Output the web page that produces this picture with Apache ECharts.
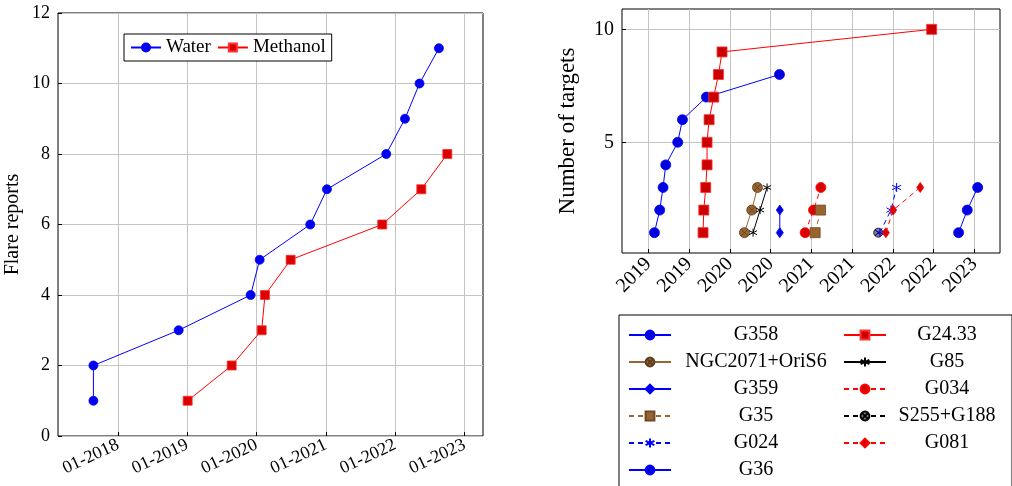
<!DOCTYPE html>
<html>
<head>
<meta charset="utf-8">
<script src="https://cdn.jsdelivr.net/npm/echarts@6/dist/echarts.min.js"></script>
<style>
  html, body { margin: 0; padding: 0; background: #fff; }
  #chart { width: 1012px; height: 486px; }
</style>
</head>
<body>
<div id="chart"></div>
<script>
// left panel: cumulative flare reports (x in decimal years)
const waterDates = [2017.644, 2017.644, 2018.874, 2019.913, 2020.043, 2020.773, 2021.014, 2021.870, 2022.140, 2022.350, 2022.630]
const waterCounts = [1, 2, 3, 4, 5, 6, 7, 8, 9, 10, 11]
const methanolDates = [2019.004, 2019.639, 2020.072, 2020.120, 2020.490, 2021.812, 2022.376, 2022.751]
const methanolCounts = [1, 2, 3, 4, 5, 6, 7, 8]
const leftYearTicks = [2018, 2019, 2020, 2021, 2022, 2023]

// right panel: number of targets per source
const targetNames = ['G358', 'G24.33', 'NGC2071+OriS6', 'G85', 'G359', 'G034', 'G35', 'S255+G188', 'G024', 'G081', 'G36']
const g358X = [2019.074, 2019.139, 2019.180, 2019.213, 2019.360, 2019.418, 2019.712, 2020.609]
const g358Y = [1, 2, 3, 4, 5, 6, 7, 8]
const g2433X = [2019.671, 2019.680, 2019.704, 2019.720, 2019.720, 2019.745, 2019.802, 2019.860, 2019.904, 2022.477]
const g2433Y = [1, 2, 3, 4, 5, 6, 7, 8, 9, 10]
const ngcX = [2020.179, 2020.269, 2020.339]
const ngcY = [1, 2, 3]
const g85X = [2020.285, 2020.371, 2020.457]
const g85Y = [1, 2, 3]
const g359X = [2020.613, 2020.613]
const g359Y = [1, 2]
const g034X = [2020.924, 2021.027, 2021.117]
const g034Y = [1, 2, 3]
const g35X = [2021.047, 2021.113]
const g35Y = [1, 2]
const s255X = [2021.821]
const s255Y = [1]
const g024X = [2021.842, 2021.977, 2022.047]
const g024Y = [1, 2, 3]
const g081X = [2021.915, 2022.005, 2022.337]
const g081Y = [1, 2, 3]
const g36X = [2022.808, 2022.914, 2023.042]
const g36Y = [1, 2, 3]
const rightHalfYearTicks = [2019, 2019.5, 2020, 2020.5, 2021, 2021.5, 2022, 2022.5, 2023]
const rightCountTicks = [5, 10]

const font = 'Liberation Serif'
const pairs = (xs, ys) => xs.map((x, i) => [x, ys[i]])

const starPath = 'path://M5,0L5,10M0.67,2.5L9.33,7.5M0.67,7.5L9.33,2.5'
const otimesPath = 'path://M10,5A5,5,0,1,1,0,5A5,5,0,1,1,10,5ZM1.46,1.46L8.54,8.54M8.54,1.46L1.46,8.54'

// helper for the right-hand series
const target = (name, xs, ys, opts) => ({
  name,
  type: 'line',
  xAxisIndex: 1,
  yAxisIndex: 1,
  data: pairs(xs, ys),
  symbol: opts.symbol,
  symbolSize: opts.size,
  showSymbol: true,
  animation: false,
  lineStyle: { color: opts.color, width: 1, type: opts.dashed ? [5, 4] : 'solid' },
  itemStyle: {
    color: opts.fill || opts.color,
    borderColor: opts.border || opts.color,
    borderWidth: opts.bw || 0.8
  },
  emphasis: { disabled: true }
})

const axisCommon = {
  axisLine: { show: false },
  axisTick: { inside: true, length: 4, lineStyle: { color: '#000' } },
  splitLine: { show: true, lineStyle: { color: '#c4c4c4', width: 1 } }
}

const chart = echarts.init(document.getElementById('chart'))

const option = {
  animation: false,
  textStyle: { fontFamily: font },
  grid: [
    { left: 58, top: 13, right: 529, bottom: 50, show: true, borderColor: '#000', borderWidth: 1, backgroundColor: 'transparent' },
    { left: 622, top: 9, right: 12, bottom: 233, show: true, borderColor: '#000', borderWidth: 1, backgroundColor: 'transparent' }
  ],
  xAxis: [
    {
      type: 'value',
      gridIndex: 0,
      min: 2017.133,
      max: 2023.266,
      ...axisCommon,
      axisTick: { ...axisCommon.axisTick, customValues: leftYearTicks },
      axisLabel: {
        customValues: leftYearTicks,
        rotate: 25,
        color: '#000',
        fontFamily: font,
        fontSize: 18,
        margin: 8,
        formatter: v => '01-' + Math.round(v)
      }
    },
    {
      type: 'value',
      gridIndex: 1,
      min: 2018.676,
      max: 2023.316,
      ...axisCommon,
      axisTick: { ...axisCommon.axisTick, customValues: rightHalfYearTicks },
      axisLabel: {
        customValues: rightHalfYearTicks,
        rotate: 45,
        color: '#000',
        fontFamily: font,
        fontSize: 20,
        margin: 8,
        formatter: v => String(Math.floor(v + 1e-6))
      }
    }
  ],
  yAxis: [
    {
      type: 'value',
      gridIndex: 0,
      min: 0,
      max: 12,
      interval: 2,
      ...axisCommon,
      axisLabel: { color: '#000', fontFamily: font, fontSize: 18, margin: 8 },
      name: 'Flare reports',
      nameLocation: 'middle',
      nameGap: 35,
      nameTextStyle: { color: '#000', fontFamily: font, fontSize: 20 }
    },
    {
      type: 'value',
      gridIndex: 1,
      min: 0.1,
      max: 10.9,
      ...axisCommon,
      axisTick: { ...axisCommon.axisTick, customValues: rightCountTicks },
      axisLabel: { customValues: rightCountTicks, color: '#000', fontFamily: font, fontSize: 20, margin: 8 },
      name: 'Number of targets',
      nameLocation: 'middle',
      nameGap: 43,
      nameTextStyle: { color: '#000', fontFamily: font, fontSize: 23 }
    }
  ],
  legend: [
    {
      data: ['Water', 'Methanol'],
      left: 124,
      top: 34,
      orient: 'horizontal',
      itemWidth: 30,
      itemHeight: 10,
      itemGap: 6,
      padding: [4, 6],
      borderColor: '#000',
      borderWidth: 1,
      backgroundColor: '#fff',
      selectedMode: false,
      textStyle: { color: '#000', fontFamily: font, fontSize: 19 }
    },
    {
      data: targetNames,
      left: 619,
      top: 315,
      orient: 'horizontal',
      width: 378,
      itemWidth: 42,
      itemHeight: 11,
      itemGap: 7,
      padding: [10, 9, 7, 9],
      borderColor: '#000',
      borderWidth: 1,
      backgroundColor: '#fff',
      selectedMode: false,
      formatter: name => {
        const col = targetNames.indexOf(name) % 2 === 0 ? 'a' : 'b'
        return '{' + col + '|' + name + '}'
      },
      textStyle: {
        color: '#000',
        fontFamily: font,
        fontSize: 20,
        rich: {
          a: { width: 160, align: 'center', fontFamily: font, fontSize: 20, lineHeight: 22 },
          b: { width: 112, align: 'center', fontFamily: font, fontSize: 20, lineHeight: 22 }
        }
      }
    }
  ],
  series: [
    {
      name: 'Water',
      type: 'line',
      xAxisIndex: 0,
      yAxisIndex: 0,
      data: pairs(waterDates, waterCounts),
      symbol: 'circle',
      symbolSize: 9,
      lineStyle: { color: '#0000ff', width: 1 },
      itemStyle: { color: '#0000ee', borderColor: '#0000ff', borderWidth: 0.8 },
      emphasis: { disabled: true }
    },
    {
      name: 'Methanol',
      type: 'line',
      xAxisIndex: 0,
      yAxisIndex: 0,
      data: pairs(methanolDates, methanolCounts),
      symbol: 'rect',
      symbolSize: 9,
      lineStyle: { color: '#ff0000', width: 1 },
      itemStyle: { color: '#dd0000', borderColor: '#ff3030', borderWidth: 0.8 },
      emphasis: { disabled: true }
    },
    target('G358', g358X, g358Y, { symbol: 'circle', size: 10, color: '#0000ff', fill: '#0000dd' }),
    target('G24.33', g2433X, g2433Y, { symbol: 'rect', size: 10, color: '#ff0000', fill: '#cc0000', border: '#ff3030' }),
    target('NGC2071+OriS6', ngcX, ngcY, { symbol: otimesPath, size: 10, color: '#996633', fill: '#9a6430', border: '#5c3d1f' }),
    target('G85', g85X, g85Y, { symbol: starPath, size: 8, color: '#000000', fill: '#000000', bw: 1 }),
    target('G359', g359X, g359Y, { symbol: 'diamond', size: [7, 10], color: '#0000ff', fill: '#0000dd' }),
    target('G034', g034X, g034Y, { symbol: 'circle', size: 10, color: '#ff0000', fill: '#dd0000', dashed: true }),
    target('G35', g35X, g35Y, { symbol: 'rect', size: 10, color: '#996633', fill: '#9a6430', border: '#6b4a24', dashed: true }),
    target('S255+G188', s255X, s255Y, { symbol: otimesPath, size: 9, color: '#000000', fill: '#808080', border: '#000000', dashed: true }),
    target('G024', g024X, g024Y, { symbol: starPath, size: 9, color: '#0000ff', fill: '#0000ff', bw: 1, dashed: true }),
    target('G081', g081X, g081Y, { symbol: 'diamond', size: [7, 10], color: '#ff0000', fill: '#dd0000', dashed: true }),
    target('G36', g36X, g36Y, { symbol: 'circle', size: 10, color: '#0000ff', fill: '#0000dd' })
  ]
}

chart.setOption(option)
</script>
</body>
</html>
